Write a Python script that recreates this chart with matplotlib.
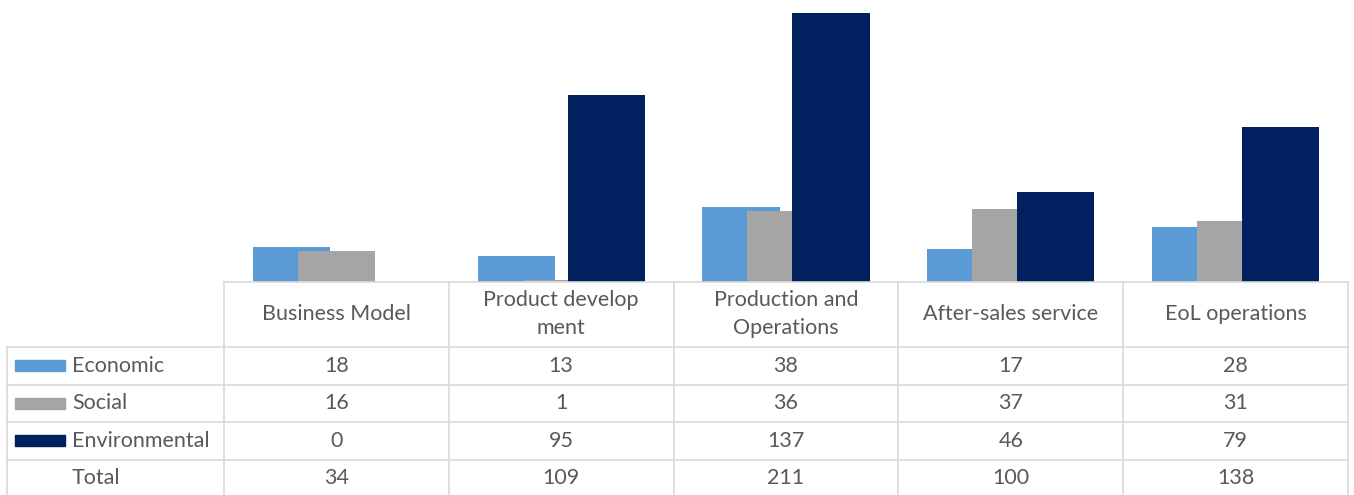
import matplotlib
matplotlib.use("Agg")
import matplotlib.pyplot as plt
import matplotlib.transforms as mtransforms
import numpy as np

# stages of the product life cycle and the indicator counts per dimension
categories = ["Business Model", "Product develop\nment", "Production and\nOperations",
              "After-sales service", "EoL operations"]
series_names = ["Economic", "Social", "Environmental"]
economic = [18, 13, 38, 17, 28]
social = [16, 1, 36, 37, 31]
environmental = [0, 95, 137, 46, 79]
totals = [34, 109, 211, 100, 138]

colors = ["#5B9BD5", "#A5A5A5", "#002060"]
text_col = "#595959"
grid_col = "#D9D9D9"
plt.rcParams["font.family"] = ["Lato", "DejaVu Sans"]
fs = 15.5

W, H = 1354, 495
fig = plt.figure(figsize=(W / 100, H / 100), dpi=100)

#bar area sits on top of the data table
ax = fig.add_axes([224 / W, (H - 282) / H, (1348 - 224) / W, 282 / H])
x = np.arange(len(categories))
width = 0.343
offset = 0.2
for k, vals in enumerate([economic, social, environmental]):
    ax.bar(x + (k - 1) * offset, vals, width, color=colors[k], zorder=2 + k)
ax.set_xlim(-0.5, len(categories) - 0.5)
ax.set_ylim(0, 143.6)
ax.axis("off")

#table drawn in pixel coordinates below the bars
tax = fig.add_axes([0, 0, 1, 1])
tax.set_xlim(0, W)
tax.set_ylim(H, 0)
tax.axis("off")
tr = mtransforms.blended_transform_factory(ax.transData, tax.transData)

left, first_col, right = 7, 224, 1348
header_top, header_bot, row_h = 282, 347, 37.5
rows = [economic, social, environmental, totals]
labels = series_names + ["Total"]

lw = 1.2
tax.plot([first_col, right], [header_top, header_top], color=grid_col, lw=lw)
for r in range(len(rows) + 1):
    y = header_bot + r * row_h
    tax.plot([left, right], [y, y], color=grid_col, lw=lw)
tax.plot([left, left], [header_bot, H], color=grid_col, lw=lw)
for i in range(len(categories) + 1):
    tax.plot([i - 0.5, i - 0.5], [header_top, H], color=grid_col, lw=lw, transform=tr)

for i, cat in enumerate(categories):
    tax.text(i, (header_top + header_bot) / 2, cat, ha="center", va="center",
             fontsize=fs, color=text_col, linespacing=1.5, transform=tr)

for r, (lab, vals) in enumerate(zip(labels, rows)):
    yc = header_bot + (r + 0.5) * row_h
    if r < len(colors):
        tax.add_patch(plt.Rectangle((15, yc - 5.5), 50, 11, color=colors[r]))
    tax.text(72, yc, lab, ha="left", va="center", fontsize=fs, color=text_col)
    for i, v in enumerate(vals):
        tax.text(i, yc, str(v), ha="center", va="center", fontsize=fs,
                 color=text_col, transform=tr)

fig.savefig("out.png", dpi=100)
